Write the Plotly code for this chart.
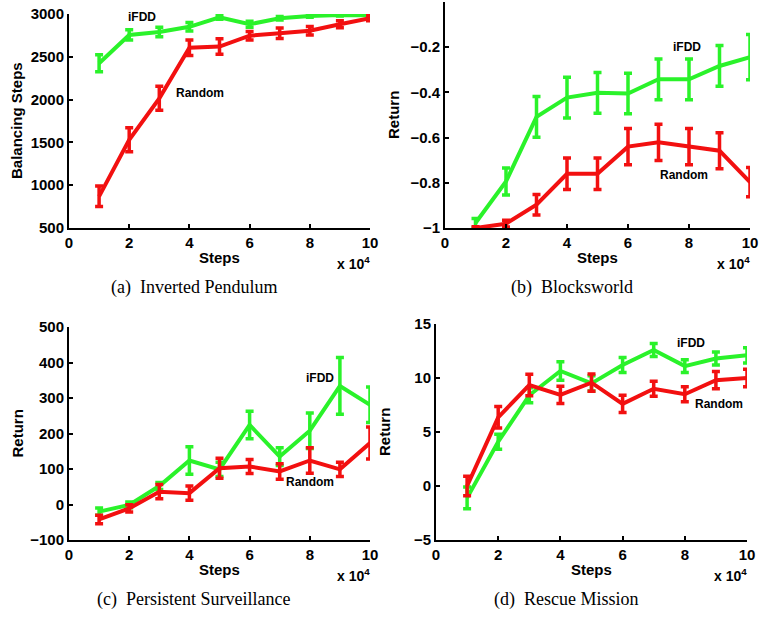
import plotly.graph_objects as go

steps = [1, 2, 3, 4, 5, 6, 7, 8, 9, 10]

# (a) Inverted Pendulum
pend_ifdd = [2425, 2755, 2790, 2850, 2960, 2880, 2950, 2977, 2988, 2985]
pend_ifdd_err = [100, 60, 55, 50, 20, 35, 20, 15, 10, 10]
pend_rand = [870, 1530, 2015, 2605, 2620, 2747, 2775, 2805, 2880, 2950]
pend_rand_err = [120, 140, 140, 90, 90, 50, 60, 50, 40, 30]

# (b) Blocksworld
bw_ifdd = [-0.978, -0.794, -0.508, -0.423, -0.402, -0.405, -0.342, -0.342, -0.283, -0.244]
bw_ifdd_err = [0.02, 0.06, 0.09, 0.09, 0.09, 0.09, 0.09, 0.09, 0.09, 0.10]
bw_rand = [-1.0, -0.981, -0.897, -0.76, -0.76, -0.64, -0.621, -0.64, -0.658, -0.797]
bw_rand_err = [0.005, 0.015, 0.045, 0.07, 0.07, 0.08, 0.08, 0.08, 0.08, 0.065]

# (c) Persistent Surveillance
ps_ifdd = [-20, -1, 52, 124, 99, 224, 135, 208, 334, 281]
ps_ifdd_err = [10, 8, 10, 39, 20, 39, 25, 50, 80, 50]
ps_rand = [-42, -11, 36, 32, 102, 107, 93, 124, 99, 173]
ps_rand_err = [12, 10, 20, 20, 28, 20, 22, 36, 20, 45]

# (d) Rescue Mission
rm_ifdd = [-1.1, 4.1, 8.4, 10.65, 9.5, 11.2, 12.6, 11.1, 11.8, 12.1]
rm_ifdd_err = [1.0, 0.7, 0.7, 0.85, 0.7, 0.7, 0.6, 0.6, 0.6, 0.7]
rm_rand = [0.0, 6.36, 9.35, 8.43, 9.57, 7.6, 9.0, 8.5, 9.8, 10.0]
rm_rand_err = [0.9, 1.0, 1.0, 0.8, 0.8, 0.8, 0.7, 0.7, 0.8, 0.8]

GREEN = "#2af22a"
RED = "#f21010"
W, H = 768, 619

panels = [
    dict(px=(69, 370), py=(14, 228), yr=[500, 3000], yt=[500, 1000, 1500, 2000, 2500, 3000],
         ytitle="Balancing Steps", cap="(a)  Inverted Pendulum",
         g=pend_ifdd, ge=pend_ifdd_err, r=pend_rand, re=pend_rand_err,
         gl=(2.43, 2965), rl=(4.35, 2077)),
    dict(px=(445, 750), py=(2, 228), yr=[-1, 0], yt=[-1, -0.8, -0.6, -0.4, -0.2],
         ytitle="Return", cap="(b)  Blocksworld",
         g=bw_ifdd, ge=bw_ifdd_err, r=bw_rand, re=bw_rand_err,
         gl=(7.93, -0.2), rl=(7.84, -0.765)),
    dict(px=(69, 370), py=(327, 540), yr=[-100, 500], yt=[-100, 0, 100, 200, 300, 400, 500],
         ytitle="Return", cap="(c)  Persistent Surveillance",
         g=ps_ifdd, ge=ps_ifdd_err, r=ps_rand, re=ps_rand_err,
         gl=(8.34, 356), rl=(8.0, 63)),
    dict(px=(436, 747), py=(324, 540), yr=[-5, 15], yt=[-5, 0, 5, 10, 15],
         ytitle="Return", cap="(d)  Rescue Mission",
         g=rm_ifdd, ge=rm_ifdd_err, r=rm_rand, re=rm_rand_err,
         gl=(8.2, 13.2), rl=(9.1, 7.6)),
]

fig = go.Figure()
bold = dict(family="Liberation Sans", size=15, color="black", weight="bold")
annotations = []
layout = {}

for i, p in enumerate(panels, start=1):
    xa = "x" if i == 1 else f"x{i}"
    ya = "y" if i == 1 else f"y{i}"
    xkey = "xaxis" if i == 1 else f"xaxis{i}"
    ykey = "yaxis" if i == 1 else f"yaxis{i}"
    x0, x1 = p["px"]
    yt_, yb_ = p["py"]
    for vals, errs, col in ((p["g"], p["ge"], GREEN), (p["r"], p["re"], RED)):
        fig.add_trace(go.Scatter(
            x=steps, y=vals, mode="lines", xaxis=xa, yaxis=ya,
            line=dict(color=col, width=4), showlegend=False, cliponaxis=False,
            error_y=dict(type="data", array=errs, visible=True, color=col, thickness=3.5, width=4),
        ))
    layout[xkey] = dict(
        domain=[x0 / W, x1 / W], range=[0, 10], anchor=ya, automargin=False,
        tickvals=[0, 2, 4, 6, 8, 10], ticks="inside", ticklen=4, tickwidth=1.5, tickcolor="black",
        showline=True, linecolor="black", linewidth=2, showgrid=False, zeroline=False,
        tickfont=bold,
    )
    layout[ykey] = dict(
        domain=[1 - yb_ / H, 1 - yt_ / H], range=p["yr"], anchor=xa, automargin=False,
        tickvals=p["yt"], ticks="inside", ticklen=4, tickwidth=1.5, tickcolor="black",
        showline=True, linecolor="black", linewidth=2, showgrid=False, zeroline=False,
        tickfont=bold,
    )
    annotations.append(dict(text=p["ytitle"], textangle=-90, font=bold, showarrow=False,
                            xref="paper", yref="paper", x=(x0 - 52) / W, y=1 - ((yt_ + yb_) / 2) / H,
                            xanchor="center", yanchor="middle"))
    annotations.append(dict(text="Steps", font=bold, showarrow=False,
                            xref="paper", yref="paper", x=((x0 + x1) / 2) / W, y=1 - (yb_ + 29) / H,
                            xanchor="center", yanchor="middle"))
    annotations.append(dict(text="x 10<sup>4</sup>", font=dict(family="Liberation Sans", size=14, color="black", weight="bold"),
                            showarrow=False, xref="paper", yref="paper", x=(x1 + 2) / W, y=1 - (yb_ + 35) / H,
                            xanchor="right", yanchor="middle"))
    annotations.append(dict(text=p["cap"], font=dict(family="Liberation Serif", size=18, color="black"),
                            showarrow=False, xref="paper", yref="paper", x=((x0 + x1) / 2 - 26) / W,
                            y=1 - (yb_ + 59) / H, xanchor="center", yanchor="middle"))
    lab = dict(family="Liberation Sans", size=12, color="black", weight="bold")
    annotations.append(dict(text="iFDD", font=lab, showarrow=False, xref=xa, yref=ya,
                            x=p["gl"][0], y=p["gl"][1], xanchor="center", yanchor="middle"))
    annotations.append(dict(text="Random", font=lab, showarrow=False, xref=xa, yref=ya,
                            x=p["rl"][0], y=p["rl"][1], xanchor="center", yanchor="middle"))

fig.update_layout(
    width=W, height=H, margin=dict(l=0, r=0, t=0, b=0),
    paper_bgcolor="white", plot_bgcolor="white",
    annotations=annotations, **layout,
)
fig.write_html("out.html", config={"displayModeBar": False},
               post_script="document.body.style.margin='0';document.body.style.overflow='hidden';")
